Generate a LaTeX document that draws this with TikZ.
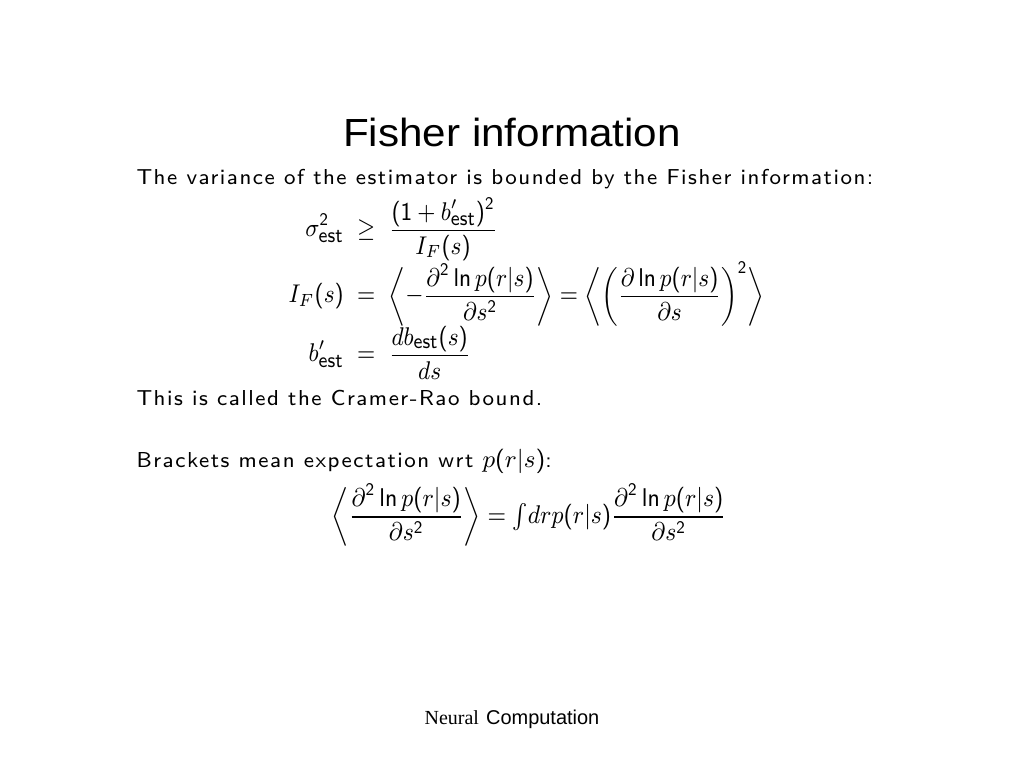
\RequirePackage{fix-cm}
\documentclass[tikz,border=0pt]{standalone}
\usepackage[no-math]{fontspec}
\usepackage{amsmath}
\usepackage{graphicx}
\newfontfamily\arialfont{Liberation Sans}
\newfontfamily\timesfont{Liberation Serif}
\newfontfamily\bodyfont{lmsans8-regular.otf}[LetterSpace=7.1]
\DeclareSymbolFont{operators}{OT1}{cmss}{m}{n}
\SetSymbolFont{operators}{bold}{OT1}{cmss}{bx}{n}
\DeclareMathSizes{10}{9.4}{6.5}{5}
\renewcommand{\familydefault}{\sfdefault}
\newcommand{\est}{\mbox{\fontsize{7.8}{9}\selectfont est}}
\newcommand{\rsep}{@{\hspace{5.5pt}}}
\newcommand{\inl}[1]{{\fontsize{10}{12}\selectfont$#1$}}
\begin{document}
\begin{tikzpicture}[x=0.3854pt,y=-0.3854pt,
  body/.style={inner sep=0pt,anchor=base west,font=\bodyfont\fontsize{8.33}{10}\selectfont},
  mathbox/.style={inner sep=0pt,font=\normalsize}]
\useasboundingbox[fill=white] (0,0) rectangle (1024,768);
\node[inner sep=0pt,anchor=base,font=\arialfont\fontsize{16.26}{20}\selectfont] (title) at (512,146) {\scalebox{1}[0.93]{Fisher information}};
\node[body] (l1) at (136,184) {The variance of the estimator is bounded by the Fisher information:};
\node[mathbox,anchor=west] (eqs) at (288,288.5) {\scalebox{0.933}[1.05]{$\begin{array}{@{}r\rsep c\rsep l@{}}
\sigma^2_{\est} & \geq & \dfrac{(1+b'_{\est})^2}{I_F(s)}\\
\noalign{\vskip0.3pt}
I_F(s) & = & \biggl\langle -\dfrac{\partial^2 \ln p(r|s)}{\partial s^2}\biggr\rangle = \biggl\langle \biggl(\dfrac{\partial \ln p(r|s)}{\partial s}\biggr)^2\biggr\rangle\\
\noalign{\vskip-0.43pt}
b'_{\est} & = & \dfrac{db_{\est}(s)}{ds}
\end{array}$}};
\node[body] (l2) at (136,405) {This is called the Cramer-Rao bound.};
\node[body] (l3) at (136,467) {Brackets mean expectation wrt \inl{p(r|s)}:};
\node[mathbox] (eq2) at (529,516) {\scalebox{0.95}[1.05]{$\displaystyle \biggl\langle \frac{\partial^2 \ln p(r|s)}{\partial s^2}\biggr\rangle = {\textstyle\int} dr p(r|s)\frac{\partial^2 \ln p(r|s)}{\partial s^2}$}};
\node[inner sep=0pt,anchor=base,font=\fontsize{7.7}{10}\selectfont] (foot) at (512,724) {{\timesfont Neural} {\arialfont Computation}};
\end{tikzpicture}
\end{document}
